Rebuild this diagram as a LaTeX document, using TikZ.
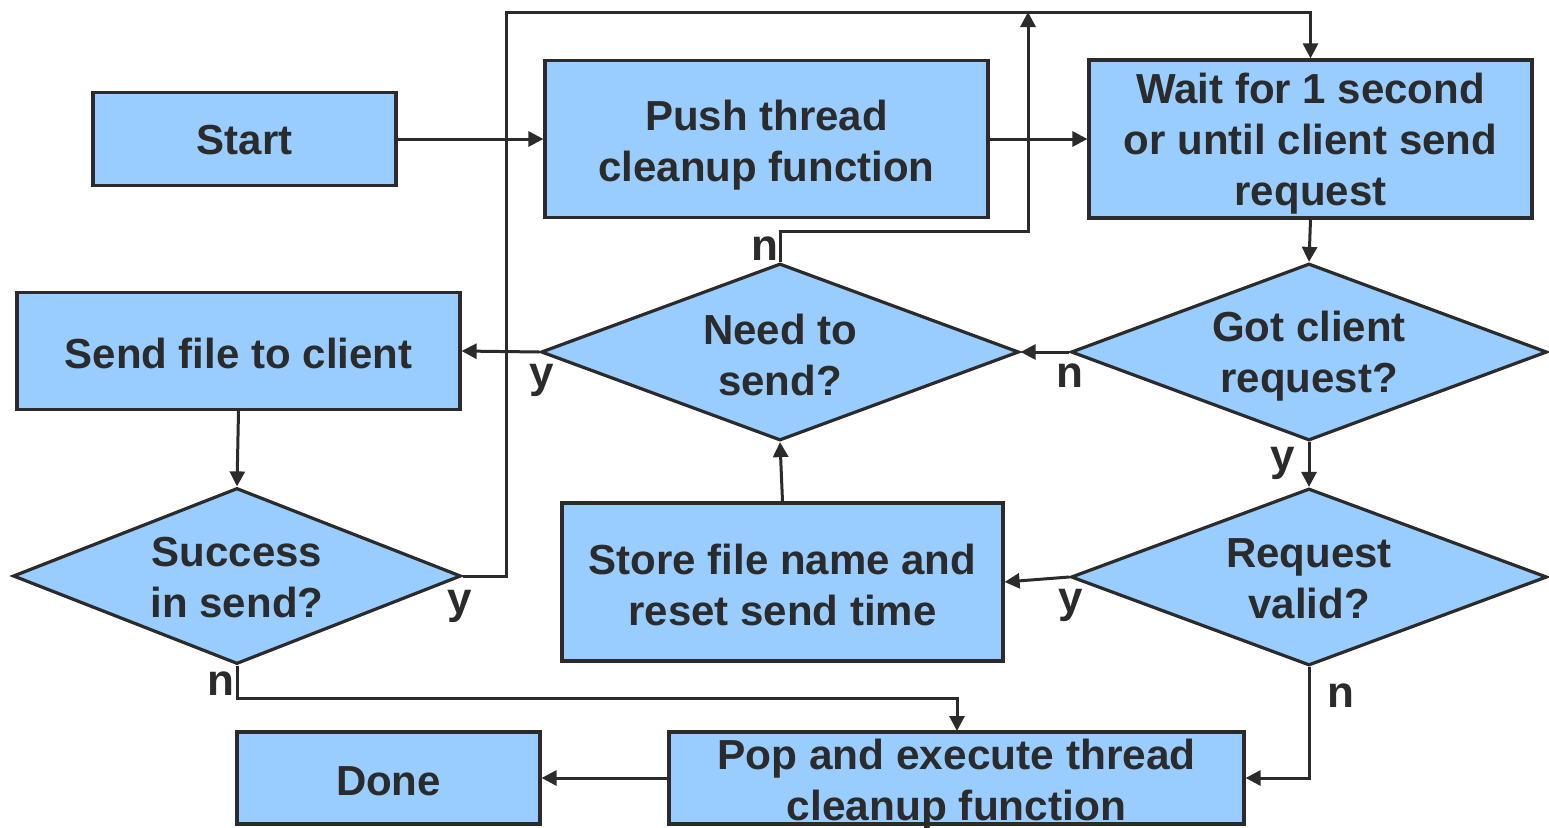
\documentclass[tikz,border=0pt]{standalone}
\usepackage{fontspec}
\setmainfont{Liberation Sans}
\usetikzlibrary{shapes.geometric,arrows.meta}
\definecolor{boxfill}{HTML}{99CCFF}
\definecolor{ink}{HTML}{2B2B2B}
\tikzset{
  boxst/.style={draw=ink, fill=boxfill, line width=3.2pt, inner sep=0pt, rectangle},
  dia/.style={draw=ink, fill=boxfill, line width=3.2pt, inner sep=0pt, diamond},
  txt/.style={text=ink, align=center, inner sep=0pt, font=\fontsize{42}{51}\selectfont\bfseries},
  lab/.style={text=ink, inner sep=0pt, anchor=base, font=\fontsize{44}{51}\selectfont\bfseries},
  conn/.style={draw=ink, line width=3pt},
  arr/.style={conn, -{Triangle[length=15pt,width=15pt]}}
}
\begin{document}
\begin{tikzpicture}[x=1pt,y=-1pt]
\useasboundingbox (0,0) rectangle (1549,827);
% boxes
\node[boxst, minimum width=303pt, minimum height=93pt] (start) at (244.5,139) {};
\node[txt] (startt) at (244.5,140) {Start};
\node[boxst, minimum width=443pt, minimum height=157pt] (push) at (766.5,139) {};
\node[txt] (pusht) at (766.5,145) {Push thread\\cleanup function};
\node[boxst, minimum width=443pt, minimum height=158pt] (wait) at (1310.5,139) {};
\node[txt] (waitt) at (1310.5,144) {Wait for 1 second\\or until client send\\request};
\node[boxst, minimum width=443pt, minimum height=117pt] (send) at (238.5,351) {};
\node[txt] (sendt) at (238.5,353) {Send file to client};
\node[boxst, minimum width=441pt, minimum height=158pt] (store) at (782.5,582) {};
\node[txt] (storet) at (782.5,585) {Store file name and\\reset send time};
\node[boxst, minimum width=303pt, minimum height=92pt] (done) at (388.5,778) {};
\node[txt] (donet) at (388.5,781) {Done};
\node[boxst, minimum width=575pt, minimum height=92pt] (pop) at (956.5,778) {};
\node[txt] (popt) at (956.5,784) {\scalebox{1.01}[1]{Pop and execute thread}\\\scalebox{1.01}[1]{cleanup function}};
% diamonds
\node[dia, minimum width=478pt, minimum height=177pt] (need) at (780,352) {};
\node[txt] (needt) at (780,355) {Need to\\send?};
\node[dia, minimum width=476pt, minimum height=177pt] (got) at (1309,352) {};
\node[txt] (gott) at (1309,356) {Got client\\request?};
\node[dia, minimum width=476pt, minimum height=177pt] (valid) at (1309,577) {};
\node[txt] (validt) at (1309,579) {Request\\valid?};
\node[dia, minimum width=448pt, minimum height=176pt] (succ) at (237,576) {};
\node[txt] (succt) at (237,578) {Success\\in send?};
% coordinates
\coordinate (topN) at (1028,12);
% connectors
\draw[arr] (start) -- (push);
\draw[arr] (push) -- (wait);
\draw[arr] (wait.south) -- (got.north);
\draw[arr] (got.west) -- (need.east);
\draw[arr] (got.south) -- (valid.north);
\draw[arr] (valid.west) -- (store.east);
\draw[arr] (valid.south) |- (pop.east);
\draw[arr] (store.north) -- (need.south);
\draw[arr] (need.west) -- (send.east);
\draw[arr] (need.north) -- ++(0,-30) -| (topN);
\draw[arr] (succ.east) -- ++(44,0) |- (1310.5,12) -- (wait.north);
\draw[arr] (send.south) -- (succ.north);
\draw[arr] (succ.south) |- (957,698) -- (957,731);
\draw[arr] (pop.west) -- (done.east);
% labels
\node[lab] (ln1) at (765,260) {n};
\node[lab] (ly1) at (542,387) {y};
\node[lab] (ln2) at (1070,387) {n};
\node[lab] (ly2) at (1283,470) {y};
\node[lab] (ly3) at (1071,612) {y};
\node[lab] (ln3) at (1341,707) {n};
\node[lab] (ly4) at (460,613) {y};
\node[lab] (ln4) at (221,695) {n};
\end{tikzpicture}
\end{document}
